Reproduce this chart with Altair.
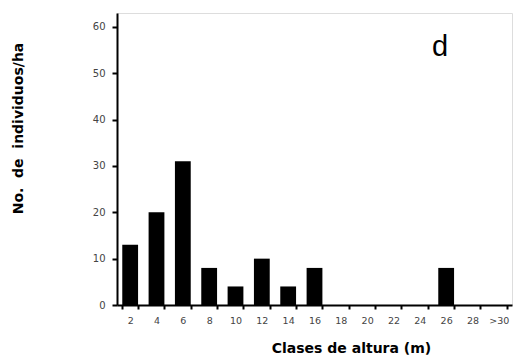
import altair as alt
import pandas as pd

clases = ["2", "4", "6", "8", "10", "12", "14", "16", "18", "20", "22", "24", "26", "28", ">30"]
individuos = [13, 20, 31, 8, 4, 10, 4, 8, 0, 0, 0, 0, 8, 0, 0]

df = pd.DataFrame({"clase": clases, "n": individuos})

FONT = "Liberation Sans"
WIDE = "DejaVu Sans"
NB = "\u00a0"
ytitle = "No." + NB + " de" + NB + " individuos/ha"

bars = alt.Chart(df).mark_bar(color="black").encode(
    x=alt.X("clase:N", sort=clases,
            scale=alt.Scale(paddingInner=0.4, paddingOuter=0.2),
            axis=alt.Axis(title="Clases de altura (m)", labelAngle=0, labelFont=WIDE,
                          labelFontSize=9.5, labelColor="#444", labelPadding=6,
                          tickBand="extent", tickSize=4, tickWidth=2, tickColor="black",
                          domainColor="black", domainWidth=2,
                          titleFont=WIDE, titleFontSize=14, titleFontWeight="bold",
                          titleColor="black", titleX=234, titleY=36)),
    y=alt.Y("n:Q", scale=alt.Scale(domain=[0, 63], nice=False),
            axis=alt.Axis(title=ytitle, values=[0, 10, 20, 30, 40, 50, 60],
                          labelFont=WIDE, labelFontSize=10, labelColor="#444",
                          tickSize=5, tickWidth=2, tickColor="black",
                          domainColor="black", domainWidth=2, labelPadding=7,
                          titleFont=WIDE, titleFontSize=14, titleFontWeight="bold",
                          titleColor="black", titleX=-92, titleY=115, grid=False)),
)

label = alt.Chart(pd.DataFrame({"t": ["d"]})).mark_text(
    font=FONT, fontSize=29, color="black", align="center", baseline="alphabetic"
).encode(x=alt.value(323), y=alt.value(43), text="t:N")

chart = (bars + label).properties(
    width=395, height=292,
    autosize=alt.AutoSizeParams(type="none"),
    padding={"left": 117, "top": 13, "right": 1, "bottom": 56},
).configure_view(stroke=None).configure(background="white")

chart.save("out.html", embed_options={"renderer": "svg", "actions": False})
